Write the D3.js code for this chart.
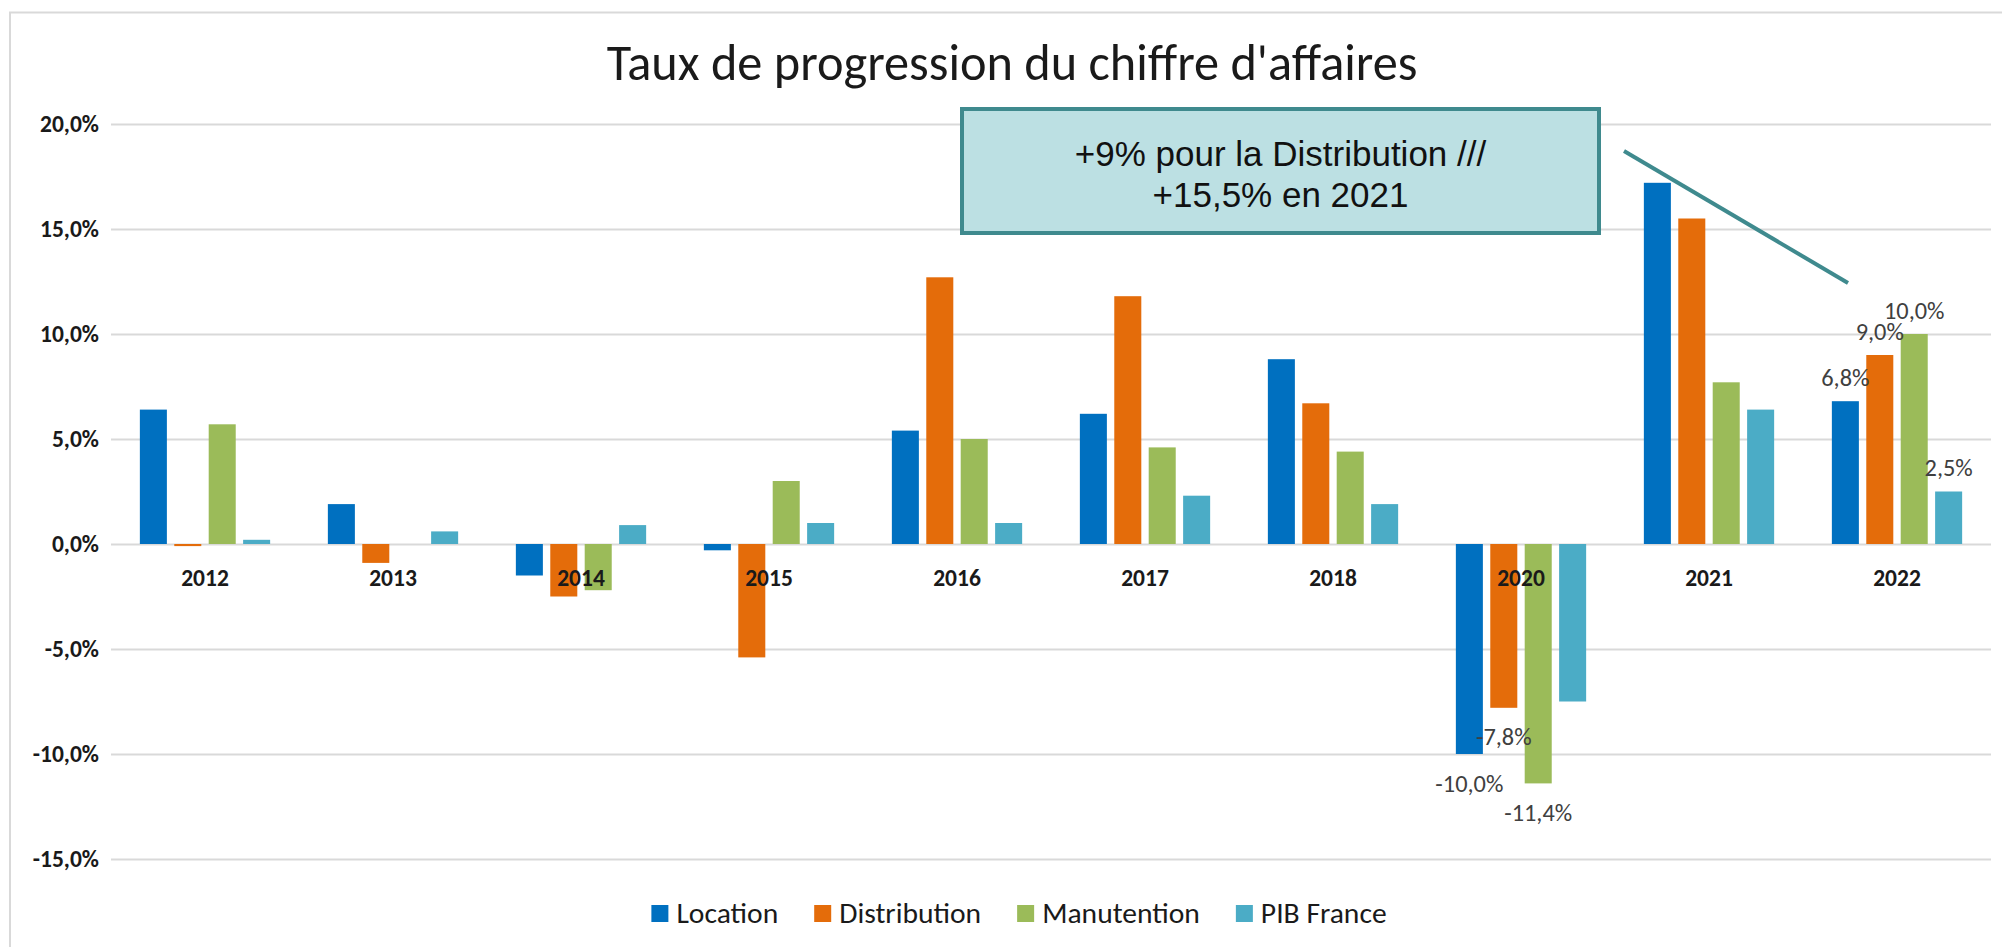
<!DOCTYPE html>
<html lang="fr">
<head>
<meta charset="utf-8">
<title>Taux de progression du chiffre d'affaires</title>
<script src="https://cdn.jsdelivr.net/npm/d3@7"></script>
<style>
  html, body { margin: 0; padding: 0; background: #fff; }
  svg { display: block; }
</style>
</head>
<body>
<svg id="chart" width="2002" height="947"></svg>
<script>
// Data (percent)
const categories   = ['2012', '2013', '2014', '2015', '2016', '2017', '2018', '2020', '2021', '2022'];
const seriesNames  = ['Location', 'Distribution', 'Manutention', 'PIB France'];
const valLocation     = [6.4, 1.9, -1.5, -0.3, 5.4, 6.2, 8.8, -10.0, 17.2, 6.8];
const valDistribution = [-0.1, -0.9, -2.5, -5.4, 12.7, 11.8, 6.7, -7.8, 15.5, 9.0];
const valManutention  = [5.7, 0.0, -2.2, 3.0, 5.0, 4.6, 4.4, -11.4, 7.7, 10.0];
const valPib          = [0.2, 0.6, 0.9, 1.0, 1.0, 2.3, 1.9, -7.5, 6.4, 2.5];
const yTicks = [20, 15, 10, 5, 0, -5, -10, -15];
// bars that carry a value label in the original: [year, series]
const labelledBars = [
  ['2020', 'Location'], ['2020', 'Distribution'], ['2020', 'Manutention'],
  ['2022', 'Location'], ['2022', 'Distribution'], ['2022', 'Manutention'], ['2022', 'PIB France']
];
const chartTitle = "Taux de progression du chiffre d'affaires";
const noteLines = ['+9% pour la Distribution ///', '+15,5% en 2021'];

const COLORS = ['#0070C0', '#E46C0A', '#9BBB59', '#4BACC6'];
const FONT = "Carlito, Calibri, Lato, sans-serif";
const GRID = '#D9D9D9';
const TEAL = '#3F8A8E';

const svg = d3.select('#chart');

// size a font so that a sample string reaches a given width
function fitSize(text, weight, target, family) {
  const t = svg.append('text')
    .attr('font-family', family || FONT)
    .attr('font-weight', weight)
    .attr('font-size', 100)
    .text(text);
  const len = t.node().getComputedTextLength();
  t.remove();
  return 100 * target / len;
}

const fmt = v => v.toFixed(1).replace('.', ',') + '%';

const titleSize  = fitSize(chartTitle, 400, 811);
const axisSize   = fitSize('20,0%', 700, 59);
const labelSize  = fitSize('-10,0%', 400, 68);
const legendSize = fitSize('Distribution', 400, 142);

const series = seriesNames.map((name, i) => ({
  name,
  color: COLORS[i],
  values: [valLocation, valDistribution, valManutention, valPib][i]
}));

const x0 = d3.scaleBand()
  .domain(categories)
  .range([111, 1991])
  .paddingInner(0.307)
  .paddingOuter(0.1535);

const x1 = d3.scaleBand()
  .domain(seriesNames)
  .range([0, x0.bandwidth()])
  .paddingInner(0.215);

const y = d3.scaleLinear().domain([-15, 20]).range([859, 124]);

// outer chart frame
svg.append('rect')
  .attr('x', 10).attr('y', 12.5)
  .attr('width', 2100).attr('height', 1000)
  .attr('fill', 'none')
  .attr('stroke', GRID)
  .attr('stroke-width', 2);

// title
svg.append('text')
  .attr('x', 1012).attr('y', 80)
  .attr('text-anchor', 'middle')
  .attr('font-family', FONT)
  .attr('font-size', titleSize)
  .attr('fill', '#1a1a1a')
  .text(chartTitle);

// gridlines + y labels
const yAxis = d3.axisLeft(y)
  .tickValues(yTicks)
  .tickSize(-(x0.range()[1] - x0.range()[0]))
  .tickPadding(12)
  .tickFormat(fmt);

const gy = svg.append('g')
  .attr('transform', `translate(${x0.range()[0]},0)`)
  .call(yAxis);
gy.select('.domain').remove();
gy.selectAll('.tick line').attr('stroke', GRID).attr('stroke-width', 2);
gy.selectAll('.tick text')
  .attr('font-family', FONT)
  .attr('font-weight', 700)
  .attr('font-size', axisSize)
  .attr('fill', '#1a1a1a');

// bars
const groups = svg.append('g').selectAll('g')
  .data(series)
  .join('g')
  .attr('fill', d => d.color);

groups.selectAll('rect')
  .data(d => d.values.map((v, i) => ({ name: d.name, cat: categories[i], v })))
  .join('rect')
  .attr('x', d => x0(d.cat) + x1(d.name))
  .attr('width', x1.bandwidth())
  .attr('y', d => Math.min(y(d.v), y(0)))
  .attr('height', d => Math.abs(y(d.v) - y(0)));

// category labels (drawn over bars)
svg.append('g').selectAll('text')
  .data(categories)
  .join('text')
  .attr('x', d => x0(d) + x0.bandwidth() / 2)
  .attr('y', 586)
  .attr('text-anchor', 'middle')
  .attr('font-family', FONT)
  .attr('font-weight', 700)
  .attr('font-size', axisSize)
  .attr('fill', '#1a1a1a')
  .text(d => d);

// value labels, outside end
const labelData = labelledBars.map(([cat, name]) => {
  const s = series.find(d => d.name === name);
  return { cat, name, v: s.values[categories.indexOf(cat)] };
});

svg.append('g').selectAll('text')
  .data(labelData)
  .join('text')
  .attr('x', d => x0(d.cat) + x1(d.name) + x1.bandwidth() / 2)
  .attr('y', d => d.v >= 0 ? y(d.v) - 24 : y(d.v) + 29)
  .attr('dy', '0.35em')
  .attr('text-anchor', 'middle')
  .attr('font-family', FONT)
  .attr('font-size', labelSize)
  .attr('fill', '#404040')
  .text(d => fmt(d.v));

// legend
const legend = svg.append('g');
let lx = 0;
series.forEach(s => {
  const item = legend.append('g').attr('transform', `translate(${lx},0)`);
  item.append('rect')
    .attr('x', 0).attr('y', -18)
    .attr('width', 17).attr('height', 17)
    .attr('fill', s.color);
  const t = item.append('text')
    .attr('x', 25).attr('y', 0)
    .attr('font-family', FONT)
    .attr('font-size', legendSize)
    .attr('fill', '#1a1a1a')
    .text(s.name);
  lx += 25 + t.node().getComputedTextLength() + 36;
});
const legendW = lx - 36;
legend.attr('transform', `translate(${1019 - legendW / 2},923)`);

// annotation box
const note = svg.append('g');
note.append('rect')
  .attr('x', 962).attr('y', 109)
  .attr('width', 637).attr('height', 124)
  .attr('fill', '#BCE0E3')
  .attr('stroke', TEAL)
  .attr('stroke-width', 4);
note.selectAll('text')
  .data(noteLines)
  .join('text')
  .attr('x', 1280.5)
  .attr('y', (d, i) => 166 + i * 41)
  .attr('text-anchor', 'middle')
  .attr('font-family', "'Liberation Sans', Arial, sans-serif")
  .attr('font-size', 35)
  .attr('fill', '#111')
  .text(d => d);

note.append('line')
  .attr('x1', 1624).attr('y1', 151)
  .attr('x2', 1848).attr('y2', 283)
  .attr('stroke', TEAL)
  .attr('stroke-width', 4);
</script>
</body>
</html>
